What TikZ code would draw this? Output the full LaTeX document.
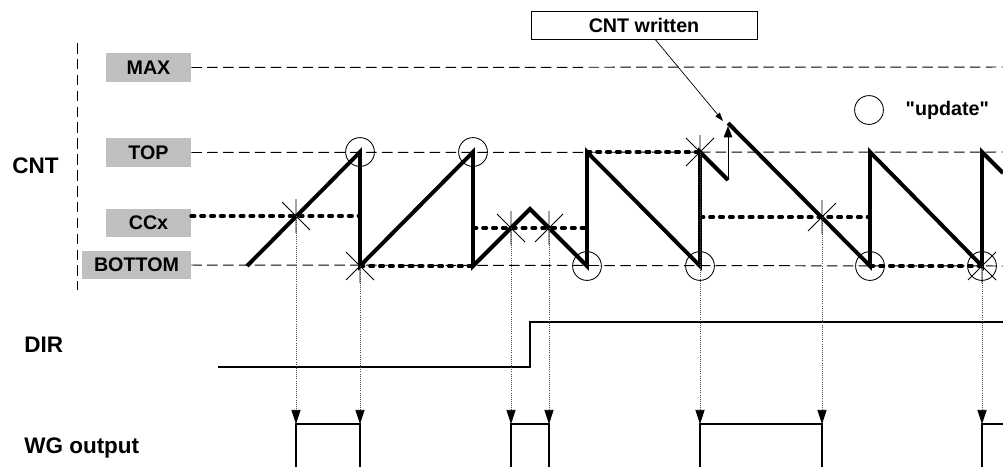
\documentclass[tikz,border=0pt]{standalone}
\usepackage{fontspec}
\setmainfont{Liberation Sans}
\newfontfamily\plainquotes{Liberation Sans}[Ligatures=TeXOff]
\usetikzlibrary{positioning,arrows.meta}

\begin{document}
\begin{tikzpicture}[
    x=0.025cm, y=-0.025cm,
    lvl/.style={fill=gray!50, minimum width=2.125cm, minimum height=0.72cm, inner sep=0pt,
        font=\fontsize{14}{16}\selectfont\bfseries},
    signame/.style={font=\fontsize{16}{18}\selectfont\bfseries, anchor=base west, inner sep=0pt},
    level/.style={dash pattern=on 7.5pt off 3.8pt, line width=0.7pt},
    wave/.style={line width=2.8pt, line join=miter},
    cmp/.style={line width=2.4pt, dash pattern=on 2.6pt off 4.4pt, line cap=round},
    drop/.style={densely dotted, gray!60!black, line width=0.5pt,
        -{Triangle[length=10pt, width=6.5pt, color=black]}},
    sig/.style={line width=1.5pt},
    upd/.style={circle, draw, line width=0.6pt, minimum size=0.72cm, inner sep=0pt},
    hitmark/.pic={\draw[line width=0.6pt] (-14,-14) -- (14,14) (-14,14) -- (14,-14) (0,-17) -- (0,17);},
]
\useasboundingbox (0,0) rectangle (1003,467);

% signal names
\node[signame] (cnt) at (12,173) {CNT};
\node[signame] (dir) at (24,352) {DIR};
\node[signame] (wg) at (24,453) {WG output};

% level labels
\node[lvl] (lMax) at (148.5,67.5) {MAX};
\node[lvl] (lTop) at (148.5,152.5) {TOP};
\node[lvl] (lCcx) at (148.5,223) {CCx};
\node[lvl, minimum width=2.725cm] (lBot) at (136.5,265) {BOTTOM};

\draw[level] (77,43) -- (77,290);
\draw[level] (lMax.east) -- (1003,67);
\draw[level] (lTop.east) -- (1003,152);
\draw[level] (lBot.east) -- (1003,266);

% compare values
\draw[cmp] (191,216) -- (360,216);
\draw[cmp] (360,266) -- (473,266);
\draw[cmp] (473,228) -- (587,228);
\draw[cmp] (587,152) -- (700,152);
\draw[cmp] (700,217) -- (870,217);
\draw[cmp] (870,266) -- (982,266);

% counter
\draw[wave] (247,266) -- (360,152) -- (360,266) -- (473,152) -- (473,266) -- (530,209)
    -- (587,266) -- (587,152) -- (700,266) -- (700,152) -- (728,180);
\draw[wave] (728,123) -- (870,266) -- (870,152) -- (982,266) -- (982,152) -- (1003,173);

% update points
\node[upd] (u1) at (360,152) {};
\node[upd] (u2) at (473,152) {};
\node[upd] (u3) at (587,266) {};
\node[upd] (u4) at (700,266) {};
\node[upd] (u5) at (870,266) {};
\node[upd] (u6) at (982,266) {};

% compare matches
\coordinate (h1) at (296,216);
\coordinate (h2) at (360,266);
\coordinate (h3) at (511,228);
\coordinate (h4) at (549,228);
\coordinate (h5) at (700,152);
\coordinate (h6) at (822,217);
\coordinate (h7) at (982,266);
\foreach \h in {h1,h2,h3,h4,h5,h6,h7}
    \pic at (\h) {hitmark};

% CNT written
\node[draw, line width=0.6pt, minimum width=5.65cm, minimum height=0.7cm,
    font=\fontsize{14}{16}\selectfont\bfseries] (cw) at (644,25) {CNT written};
\coordinate (cwend) at (723,121);
\draw[line width=0.5pt, -{Triangle[length=6pt, width=4pt]}] ([xshift=0.28cm]cw.south) -- (cwend);
\coordinate (jmp) at (728,180);
\draw[line width=0.6pt, -{Triangle[length=8pt, width=6pt]}] (jmp) -- (728,126);

% legend
\node[upd] (updleg) at (869,110) {};
\node[right=0.54cm of updleg, inner sep=0pt, font=\plainquotes\fontsize{14}{16}\selectfont\bfseries] (updtxt)
    {"update"};

% DIR
\draw[sig] (218,367) -- (530,367) -- (530,322) -- (1003,322);

% WG output
\coordinate (w1a) at (296,424);
\coordinate (w1b) at (360,424);
\coordinate (w2a) at (511,424);
\coordinate (w2b) at (549,424);
\coordinate (w3a) at (700,424);
\coordinate (w3b) at (822,424);
\coordinate (w4a) at (982,424);
\draw[sig] (296,467) -- (w1a) -- (w1b) -- (360,467);
\draw[sig] (511,467) -- (w2a) -- (w2b) -- (549,467);
\draw[sig] (700,467) -- (w3a) -- (w3b) -- (822,467);
\draw[sig] (982,467) -- (w4a) -- (1003,424);

\foreach \h/\w in {h1/w1a, h2/w1b, h3/w2a, h4/w2b, h5/w3a, h6/w3b, h7/w4a}
    \draw[drop] (\h) -- (\w);
\end{tikzpicture}
\end{document}
